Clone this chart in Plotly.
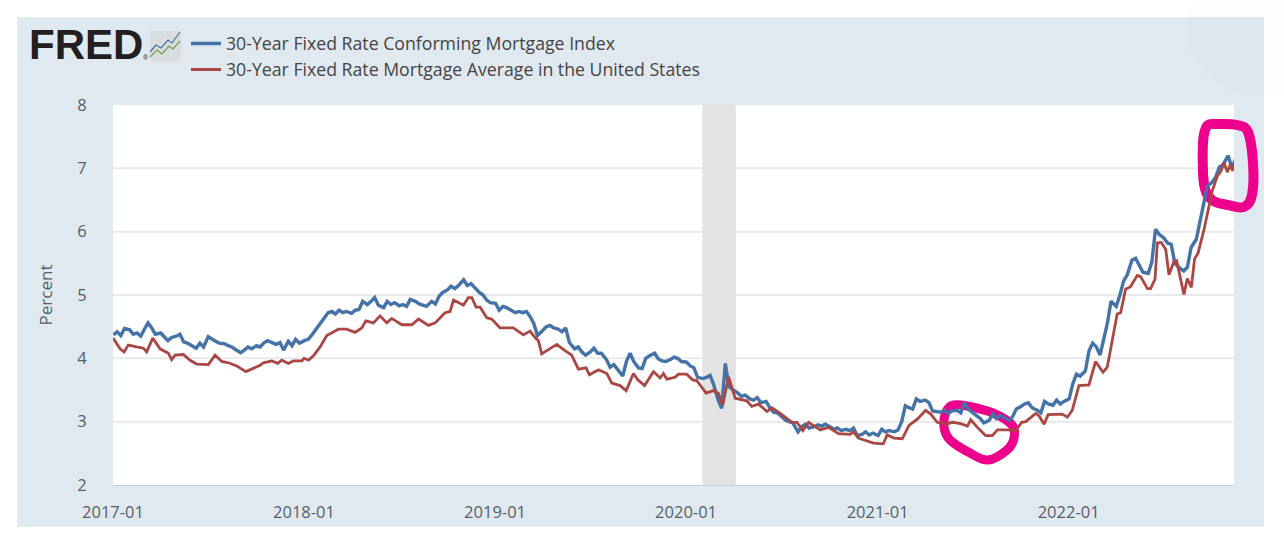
import datetime as dt
import plotly.graph_objects as go

SERIES_BLUE = "30-Year Fixed Rate Conforming Mortgage Index"
SERIES_RED = "30-Year Fixed Rate Mortgage Average in the United States"
Y_TICKS = [2, 3, 4, 5, 6, 7, 8]
X_TICKS = ["2017-01-01", "2018-01-01", "2019-01-01", "2020-01-01", "2021-01-01", "2022-01-01"]
X_TICK_LABELS = ["2017-01", "2018-01", "2019-01", "2020-01", "2021-01", "2022-01"]
RECESSION = ["2020-02-01", "2020-04-05"]

# Conforming index: four readings per month, one row per month
blue_2017 = [[4.37,4.42,4.36,4.47],[4.45,4.38,4.40,4.35],[4.46,4.56,4.48,4.38],[4.40,4.33,4.28,4.33],
             [4.35,4.38,4.26,4.24],[4.20,4.16,4.24,4.18],[4.34,4.30,4.27,4.24],[4.23,4.20,4.18,4.14],
             [4.09,4.13,4.18,4.15],[4.20,4.18,4.24,4.28],[4.24,4.22,4.25,4.13],[4.27,4.20,4.30,4.24]]
blue_2018 = [[4.28,4.30,4.37,4.45],[4.56,4.66,4.72,4.74],[4.70,4.76,4.72,4.74],[4.71,4.76,4.77,4.90],
             [4.85,4.90,4.96,4.84],[4.80,4.90,4.85,4.88],[4.83,4.85,4.82,4.93],[4.90,4.86,4.84,4.82],
             [4.90,4.86,4.98,5.04],[5.08,5.14,5.10,5.15],[5.24,5.15,5.18,5.12],[5.04,5.00,4.92,4.88]]
blue_2019 = [[4.87,4.76,4.82,4.80],[4.76,4.72,4.74,4.72],[4.74,4.66,4.55,4.36],[4.44,4.50,4.52,4.48],
             [4.46,4.42,4.48,4.25],[4.15,4.18,4.10,4.05],[4.10,4.16,4.08,4.08],[3.98,3.86,3.90,3.82],
             [3.72,3.95,4.08,3.95],[3.85,3.84,4.00,4.04],[4.08,3.99,3.96,3.95],[3.98,4.02,4.00,3.95]]
blue_2020 = [[3.94,3.88,3.85,3.70],[3.68,3.70,3.73,3.58],[3.35,3.21,3.92,3.55],[3.50,3.45,3.40,3.42],
             [3.36,3.34,3.38,3.30],[3.32,3.22,3.15,3.14],[3.08,3.02,3.00,2.98],[2.84,2.92,2.96,2.90],
             [2.92,2.95,2.93,2.96],[2.92,2.88,2.90,2.86],[2.88,2.86,2.90,2.78],[2.80,2.84,2.79,2.82]]
blue_2021 = [[2.78,2.88,2.84,2.86],[2.84,2.87,3.00,3.25],[3.22,3.20,3.36,3.32],[3.34,3.30,3.17,3.16],
             [3.15,3.18,3.13,3.17],[3.18,3.14,3.30,3.20],[3.14,3.08,3.05,2.98],[3.02,3.12,3.05,3.10],
             [3.06,3.02,3.08,3.20],[3.24,3.28,3.30,3.22],[3.18,3.14,3.32,3.28],[3.26,3.34,3.28,3.32]]
blue_2022 = [[3.36,3.60,3.75,3.72],[3.80,4.12,4.24,4.18],[4.05,4.30,4.55,4.90],[4.82,5.00,5.22,5.32],
             [5.55,5.58,5.46,5.36],[5.34,5.52,6.04,5.96],[5.90,5.82,5.80,5.50],[5.42,5.38,5.44,5.75],
             [5.88,6.14,6.42,6.72],[6.78,6.86,7.02,7.06],[7.20,7.00,7.15],[7.18,6.75]]
blue_years = [(2017, blue_2017), (2018, blue_2018), (2019, blue_2019),
              (2020, blue_2020), (2021, blue_2021), (2022, blue_2022)]

# Survey average: decimal year of each reading and the reading
red_when = [2017.00,2017.037,2017.058,2017.08,2017.124,2017.159,2017.176,2017.208,2017.246,2017.29,2017.307,2017.325,
            2017.368,2017.403,2017.438,2017.499,2017.534,2017.569,2017.604,2017.647,2017.695,2017.735,2017.77,2017.787,
            2017.831,2017.862,2017.883,2017.918,2017.944,2017.988,2018.0,2018.023,2018.049,2018.084,2018.119,2018.18,
            2018.223,2018.267,2018.302,2018.323,2018.363,2018.398,2018.433,2018.459,2018.511,2018.564,2018.599,2018.651,
            2018.686,2018.738,2018.764,2018.782,2018.834,2018.86,2018.878,2018.9,2018.921,2018.956,2018.982,2019.026,
            2019.096,2019.148,2019.183,2019.209,2019.227,2019.244,2019.323,2019.366,2019.401,2019.436,2019.476,2019.494,
            2019.541,2019.585,2019.611,2019.654,2019.686,2019.724,2019.747,2019.782,2019.829,2019.864,2019.881,2019.899,
            2019.942,2019.96,2020.003,2020.035,2020.056,2020.105,2020.143,2020.169,2020.192,2020.222,2020.257,2020.318,
            2020.344,2020.379,2020.423,2020.449,2020.493,2020.554,2020.58,2020.611,2020.641,2020.702,2020.745,2020.798,
            2020.859,2020.876,2020.902,2020.911,2020.981,2021.03,2021.05,2021.086,2021.129,2021.164,2021.208,2021.251,
            2021.278,2021.312,2021.356,2021.391,2021.435,2021.47,2021.487,2021.522,2021.565,2021.6,2021.627,2021.679,
            2021.723,2021.754,2021.775,2021.827,2021.845,2021.871,2021.892,2021.966,2021.993,2022.019,2022.054,2022.106,
            2022.141,2022.18,2022.202,2022.254,2022.272,2022.298,2022.324,2022.359,2022.377,2022.412,2022.429,2022.452,
            2022.464,2022.485,2022.508,2022.525,2022.551,2022.565,2022.603,2022.621,2022.642,2022.659,2022.677,2022.708,
            2022.735,2022.752,2022.778,2022.796,2022.813,2022.83,2022.848,2022.857,2022.869]
red_values = [4.32,4.15,4.10,4.21,4.18,4.16,4.10,4.32,4.15,4.08,3.98,4.05,
              4.06,3.97,3.91,3.90,4.05,3.95,3.93,3.88,3.79,3.85,3.89,3.93,
              3.96,3.92,3.97,3.92,3.96,3.96,4.00,3.97,4.04,4.18,4.36,4.46,
              4.46,4.41,4.48,4.59,4.56,4.67,4.56,4.63,4.53,4.53,4.62,4.52,
              4.56,4.72,4.74,4.92,4.84,4.96,4.96,4.81,4.81,4.64,4.62,4.48,
              4.48,4.37,4.43,4.33,4.28,4.07,4.22,4.12,4.05,3.83,3.85,3.74,
              3.82,3.76,3.61,3.57,3.49,3.76,3.66,3.57,3.79,3.69,3.76,3.67,
              3.70,3.75,3.75,3.66,3.65,3.45,3.49,3.45,3.26,3.71,3.37,3.33,
              3.24,3.28,3.16,3.22,3.13,2.99,2.99,2.86,2.99,2.87,2.91,2.81,
              2.80,2.84,2.74,2.73,2.66,2.65,2.79,2.74,2.73,2.94,3.04,3.18,
              3.12,2.99,2.96,2.99,2.97,2.93,3.03,2.91,2.78,2.78,2.87,2.87,
              2.86,2.99,3.00,3.13,3.09,2.96,3.11,3.12,3.07,3.18,3.57,3.58,
              3.95,3.78,3.86,4.70,4.72,5.09,5.13,5.31,5.29,5.10,5.10,5.25,
              5.82,5.83,5.72,5.32,5.53,5.54,5.01,5.26,5.12,5.57,5.66,6.03,
              6.41,6.65,6.88,6.95,7.09,6.94,7.07,6.96,7.08]

# Hand-drawn marker strokes, traced in page pixels
RING_RIGHT = [(1217,124),(1237,125),(1248,132),(1253,163),(1252,195),(1244,207),(1228,205),(1212,200),(1204,184),(1203,143),(1207,126)]
RING_LOW = [(953,405),(967,406),(993,413),(1012,425),(1014,438),(1007,450),(988,460),(970,453),(950,440),(944,427),(946,412)]


def year_to_date(y):
    whole = int(y)
    start = dt.datetime(whole, 1, 1)
    return start + dt.timedelta(days=(y - whole) * 365.25)


blue_dates, blue_values = [], []
for year, months in blue_years:
    for m, row in enumerate(months, start=1):
        for k, v in enumerate(row):
            blue_dates.append(dt.datetime(year, m, 2 + k * 7))
            blue_values.append(v)
red_dates = [year_to_date(y) for y in red_when]

W, H = 1284, 541
L, R, T, B = 113, 1234, 105, 485
PX = lambda x: (x - L) / (R - L)
PY = lambda y: (B - y) / (B - T)


def rect(x0, y0, x1, y1, fill):
    return dict(type="rect", xref="paper", yref="paper", x0=PX(x0), x1=PX(x1), y0=PY(y1), y1=PY(y0),
                fillcolor=fill, line_width=0, layer="below")


def ring_path(points):
    n = len(points)
    d = f"M {PX(points[0][0])},{PY(points[0][1])}"
    for i in range(n):
        p0, p1, p2, p3 = points[i - 1], points[i], points[(i + 1) % n], points[(i + 2) % n]
        c1 = (p1[0] + (p2[0] - p0[0]) / 6, p1[1] + (p2[1] - p0[1]) / 6)
        c2 = (p2[0] - (p3[0] - p1[0]) / 6, p2[1] - (p3[1] - p1[1]) / 6)
        d += f" C {PX(c1[0])},{PY(c1[1])} {PX(c2[0])},{PY(c2[1])} {PX(p2[0])},{PY(p2[1])}"
    return d + " Z"


TEXT = "#555f66"
fig = go.Figure()
fig.add_trace(go.Scatter(x=blue_dates, y=blue_values, name=SERIES_BLUE, mode="lines",
                         line=dict(color="#4572A7", width=3.4)))
fig.add_trace(go.Scatter(x=red_dates, y=red_values, name=SERIES_RED, mode="lines",
                         line=dict(color="#AA4643", width=2.8)))

grid_shapes = [dict(type="line", xref="paper", yref="y", x0=0, x1=1, y0=v, y1=v, layer="below",
                    line=dict(color="#E9E9E9", width=2)) for v in Y_TICKS[1:-1]]

shapes = [
    rect(17, 17, 1264, 527, "#E1E9F0"),
    rect(L, T, R, B, "#FFFFFF"),
    *grid_shapes,
    dict(type="circle", xref="paper", yref="paper", x0=PX(1187), x1=PX(1327), y0=PY(94), y1=PY(-40),
         fillcolor="rgba(120,120,120,0.012)", line_width=0, layer="below"),
    dict(type="rect", xref="paper", yref="paper", x0=PX(150), x1=PX(181), y0=PY(61), y1=PY(31),
         fillcolor="#DADDE0", line_width=0, layer="below"),
    dict(type="path", xref="paper", yref="paper", layer="below", line=dict(color="#4572A7", width=1.2),
         path=f"M {PX(150)},{PY(52)} L {PX(156)},{PY(45)} L {PX(161)},{PY(48)} L {PX(168)},{PY(40)} L {PX(172)},{PY(43)} L {PX(180)},{PY(32)}"),
    dict(type="path", xref="paper", yref="paper", layer="below", line=dict(color="#6FA545", width=1.2),
         path=f"M {PX(150)},{PY(57)} L {PX(157)},{PY(50)} L {PX(162)},{PY(54)} L {PX(169)},{PY(46)} L {PX(173)},{PY(49)} L {PX(180)},{PY(41)}"),
    dict(type="rect", xref="x", yref="paper", x0=RECESSION[0], x1=RECESSION[1], y0=0, y1=1,
         fillcolor="#E3E3E3", line_width=0, layer="below"),
    dict(type="path", xref="paper", yref="paper", layer="below", path=ring_path(RING_RIGHT),
         line=dict(color="#EC008C", width=10), fillcolor="rgba(0,0,0,0)"),
    dict(type="path", xref="paper", yref="paper", layer="below", path=ring_path(RING_LOW),
         line=dict(color="#EC008C", width=9), fillcolor="rgba(0,0,0,0)"),
]

fig.update_layout(
    width=W, height=H, autosize=False,
    margin=dict(l=L, r=W - R, t=T, b=H - B, pad=0),
    paper_bgcolor="#FFFFFF", plot_bgcolor="rgba(0,0,0,0)",
    font=dict(family="Open Sans", size=16, color=TEXT),
    shapes=shapes,
    showlegend=True,
    legend=dict(x=PX(186), y=PY(25.5), xanchor="left", yanchor="top", orientation="v",
                bgcolor="rgba(0,0,0,0)", font=dict(family="Open Sans", size=17.7, color="#444444"),
                itemwidth=30, tracegroupgap=0),
    annotations=[
        dict(text="<b>FRED</b>", xref="paper", yref="paper", x=PX(27), y=PY(45), xanchor="left", yanchor="middle",
             showarrow=False, font=dict(family="Liberation Sans", size=42, color="#231F20")),
        dict(text="®", xref="paper", yref="paper", x=PX(141), y=PY(58), xanchor="left", yanchor="middle",
             showarrow=False, font=dict(family="Liberation Sans", size=7, color="#231F20")),
    ],
    xaxis=dict(type="date", range=["2017-01-01", "2022-11-13"], tickmode="array", tickvals=X_TICKS,
               ticktext=X_TICK_LABELS, showgrid=False, showline=True, linecolor="#C0D0E0", linewidth=1,
               ticks="outside", ticklen=12, tickcolor="rgba(0,0,0,0)", tickfont=dict(size=16.5, color=TEXT)),
    yaxis=dict(range=[2, 8], tickmode="array", tickvals=Y_TICKS, showgrid=False,
               zeroline=False, showline=False, ticks="outside", ticklen=22, tickcolor="rgba(0,0,0,0)",
               tickfont=dict(size=16.5, color=TEXT),
               title=dict(text="Percent", standoff=20, font=dict(size=17, color=TEXT))),
)

fig.write_html("out.html", config={"displayModeBar": False},
               post_script="document.body.style.margin='0';document.body.style.overflow='hidden';")
